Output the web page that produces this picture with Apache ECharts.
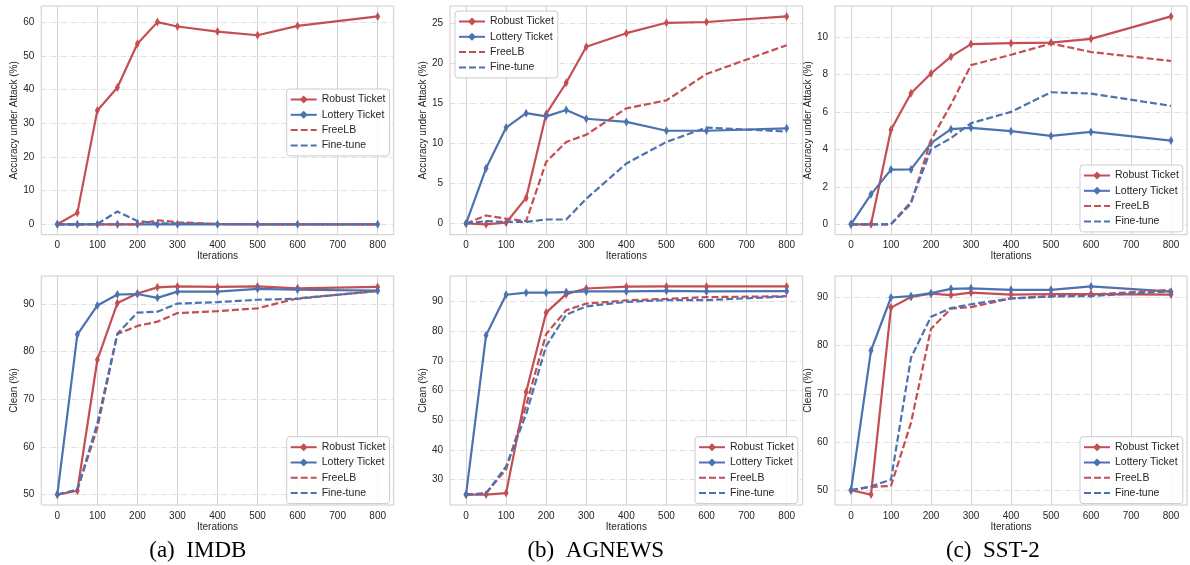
<!DOCTYPE html>
<html>
<head>
<meta charset="utf-8">
<script src="https://cdn.jsdelivr.net/npm/echarts@6.0.0/dist/echarts.min.js"></script>
<style>
html,body{margin:0;padding:0;background:#fff;}
#chart{width:1190px;height:565px;}
</style>
</head>
<body>
<div id="chart"></div>
<script>
// ---------------- data ----------------
const iterations = [0, 50, 100, 150, 200, 250, 300, 400, 500, 600, 800];
const xTicks = [0, 100, 200, 300, 400, 500, 600, 700, 800];
const seriesNames = ['Robust Ticket', 'Lottery Ticket', 'FreeLB', 'Fine-tune'];

// (a) IMDB – accuracy under attack
const imdbAttackRobust  = [0, 3.4, 33.8, 40.6, 53.6, 60.0, 58.7, 57.2, 56.1, 58.9, 61.7];
const imdbAttackLottery = [0, 0, 0, 0, 0, 0, 0, 0, 0, 0, 0];
const imdbAttackFreeLB  = [0, 0, 0, 0, 0, 1.2, 0.6, 0.1, 0, 0, 0];
const imdbAttackFinetune= [0, 0, 0.1, 3.8, 1.0, 0.3, 0.3, 0.1, 0, 0, 0];
const imdbAttackTicks   = [0, 10, 20, 30, 40, 50, 60];

// (b) AGNEWS – accuracy under attack
const agAttackRobust  = [0, -0.1, 0.1, 3.2, 13.7, 17.6, 22.1, 23.8, 25.1, 25.2, 25.9];
const agAttackLottery = [0, 6.9, 12.0, 13.8, 13.4, 14.2, 13.1, 12.7, 11.6, 11.6, 11.9];
const agAttackFreeLB  = [0, 1.0, 0.6, 0.3, 7.7, 10.2, 11.1, 14.4, 15.4, 18.7, 22.3];
const agAttackFinetune= [0, 0.3, 0.2, 0.2, 0.5, 0.5, 3.1, 7.5, 10.2, 12.0, 11.5];
const agAttackTicks   = [0, 5, 10, 15, 20, 25];

// (c) SST-2 – accuracy under attack
const sstAttackRobust  = [0, 0, 5.05, 7.0, 8.05, 8.95, 9.62, 9.67, 9.7, 9.9, 11.1];
const sstAttackLottery = [0, 1.6, 2.92, 2.93, 4.33, 5.08, 5.15, 4.97, 4.72, 4.93, 4.47];
const sstAttackFreeLB  = [0, 0, 0, 1.1, 4.5, 6.4, 8.5, 9.05, 9.65, 9.2, 8.72];
const sstAttackFinetune= [0, 0, 0, 1.2, 4.0, 4.6, 5.4, 6.0, 7.05, 6.98, 6.32];
const sstAttackTicks   = [0, 2, 4, 6, 8, 10];

// (a) IMDB – clean accuracy
const imdbCleanRobust  = [50, 50.8, 78.3, 90.2, 92.2, 93.5, 93.7, 93.6, 93.7, 93.3, 93.6];
const imdbCleanLottery = [50, 83.6, 89.7, 92.0, 92.1, 91.3, 92.6, 92.6, 93.2, 93.0, 92.8];
const imdbCleanFreeLB  = [50, 51.0, 64.0, 83.7, 85.4, 86.3, 88.1, 88.5, 89.1, 91.2, 92.7];
const imdbCleanFinetune= [50, 51.0, 65.0, 83.8, 88.2, 88.4, 90.1, 90.4, 90.9, 91.1, 92.8];
const imdbCleanTicks   = [50, 60, 70, 80, 90];

// (b) AGNEWS – clean accuracy
const agCleanRobust  = [25, 25.0, 25.5, 59.5, 86.2, 92.4, 94.3, 94.9, 95.0, 95.0, 95.0];
const agCleanLottery = [25, 78.6, 92.2, 92.9, 92.9, 93.1, 93.3, 93.3, 93.5, 93.3, 93.4];
const agCleanFreeLB  = [25, 25.5, 33.5, 55.0, 79.0, 87.0, 89.2, 90.3, 90.8, 91.4, 91.7];
const agCleanFinetune= [25, 25.3, 34.5, 52.0, 75.0, 85.5, 88.3, 89.8, 90.4, 90.4, 91.6];
const agCleanTicks   = [30, 40, 50, 60, 70, 80, 90];

// (c) SST-2 – clean accuracy
const sstCleanRobust  = [50, 49.1, 87.9, 90.1, 90.8, 90.5, 91.0, 90.6, 90.7, 90.7, 90.6];
const sstCleanLottery = [50, 79.0, 90.0, 90.3, 90.9, 91.8, 91.9, 91.6, 91.6, 92.3, 91.2];
const sstCleanFreeLB  = [50, 50.7, 50.9, 64.0, 83.5, 87.7, 88.0, 89.8, 90.3, 90.6, 91.6];
const sstCleanFinetune= [50, 50.8, 52.2, 77.5, 86.0, 87.8, 88.6, 89.8, 90.2, 90.3, 91.3];
const sstCleanTicks   = [50, 60, 70, 80, 90];

const captions = ['(a)  IMDB', '(b)  AGNEWS', '(c)  SST-2'];

// ---------------- layout / style ----------------
const RED = '#C44E52', BLUE = '#4C72B0';
const SANS = '"Liberation Sans", Arial, sans-serif';
const TEXT = '#262626';

const panels = [
  {grid:{left:41.3, top:6, width:352.4, height:228.7}, ylabel:'Accuracy under Attack (%)', ticks:imdbAttackTicks,
   data:[imdbAttackRobust, imdbAttackLottery, imdbAttackFreeLB, imdbAttackFinetune], legend:{left:286.7, top:89}},
  {grid:{left:450, top:6, width:352.7, height:228.7}, ylabel:'Accuracy under Attack (%)', ticks:agAttackTicks,
   data:[agAttackRobust, agAttackLottery, agAttackFreeLB, agAttackFinetune], legend:{left:455, top:11}},
  {grid:{left:835, top:6, width:352, height:228.7}, ylabel:'Accuracy under Attack (%)', ticks:sstAttackTicks,
   data:[sstAttackRobust, sstAttackLottery, sstAttackFreeLB, sstAttackFinetune], legend:{left:1080, top:165}},
  {grid:{left:41.3, top:276, width:352.4, height:229}, ylabel:'Clean (%)', ticks:imdbCleanTicks,
   data:[imdbCleanRobust, imdbCleanLottery, imdbCleanFreeLB, imdbCleanFinetune], legend:{left:286.7, top:436.7}},
  {grid:{left:450, top:276, width:352.7, height:229}, ylabel:'Clean (%)', ticks:agCleanTicks,
   data:[agCleanRobust, agCleanLottery, agCleanFreeLB, agCleanFinetune], legend:{left:695, top:436.7}},
  {grid:{left:835, top:276, width:352, height:229}, ylabel:'Clean (%)', ticks:sstCleanTicks,
   data:[sstCleanRobust, sstCleanLottery, sstCleanFreeLB, sstCleanFinetune], legend:{left:1080, top:436.7}}
];

// matplotlib-style autoscale with 5% margins
function limits(arrs) {
  let lo = Infinity, hi = -Infinity;
  arrs.forEach(a => a.forEach(v => { lo = Math.min(lo, v); hi = Math.max(hi, v); }));
  const m = (hi - lo) * 0.05;
  return [lo - m, hi + m];
}
const xLim = limits([iterations]);

const option = {
  backgroundColor: '#ffffff',
  animation: false,
  grid: [], xAxis: [], yAxis: [], series: [], legend: [], graphic: []
};

panels.forEach((p, i) => {
  option.grid.push(Object.assign({show:true, borderColor:'#cccccc', borderWidth:1, backgroundColor:'#ffffff', containLabel:false}, p.grid));
  option.xAxis.push({
    type:'value', gridIndex:i, min:xLim[0], max:xLim[1],
    name:'Iterations', nameLocation:'middle', nameGap:16,
    nameTextStyle:{fontFamily:SANS, fontSize:10, color:TEXT},
    axisLine:{show:false}, axisTick:{show:false, customValues:xTicks},
    axisLabel:{customValues:xTicks, fontFamily:SANS, fontSize:10, color:TEXT, margin:6},
    splitLine:{show:true, lineStyle:{color:'#d4d4d4', width:1, type:'solid'}}
  });
  const yl = limits(p.data);
  option.yAxis.push({
    type:'value', gridIndex:i, min:yl[0], max:yl[1],
    name:p.ylabel, nameLocation:'middle', nameGap:20,
    nameTextStyle:{fontFamily:SANS, fontSize:10, color:TEXT},
    axisLine:{show:false}, axisTick:{show:false, customValues:p.ticks},
    axisLabel:{customValues:p.ticks, fontFamily:SANS, fontSize:10, color:TEXT, margin:7},
    splitLine:{show:true, lineStyle:{color:'#dedede', width:1, type:[5,2,1,2]}}
  });
  p.data.forEach((vals, k) => {
    const dashed = k >= 2;
    const color = (k % 2 === 0) ? RED : BLUE;
    option.series.push({
      type:'line', name:seriesNames[k], xAxisIndex:i, yAxisIndex:i,
      data: iterations.map((x, j) => [x, vals[j]]),
      symbol: dashed ? 'none' : 'diamond', symbolSize:[5, 9], showSymbol: !dashed,
      itemStyle:{color:color},
      lineStyle:{color:color, width:2.2, type: dashed ? [7,3] : 'solid'},
      emphasis:{disabled:true}, silent:true, z: 2 + k
    });
  });
  option.legend.push({
    orient:'vertical', left:p.legend.left, top:p.legend.top,
    itemWidth:26, itemHeight:10, itemGap:4.3, padding:[5,4,5,3],
    borderColor:'#cccccc', borderWidth:1, borderRadius:3, backgroundColor:'rgba(255,255,255,0.85)',
    textStyle:{fontFamily:SANS, fontSize:10.5, color:TEXT},
    data: seriesNames.map((n, k) => k >= 2 ? {name:n, itemStyle:{opacity:0}} : {name:n}),
    selectedMode:false
  });
});

const capX = [197.8, 595.8, 992.8];
captions.forEach((c, i) => {
  option.graphic.push({
    type:'text', x:capX[i], y:551,
    style:{text:c, align:'center', verticalAlign:'middle', font:'23px "Liberation Serif", "Times New Roman", serif', fill:'#000'}
  });
});

const chart = echarts.init(document.getElementById('chart'), null, {renderer:'canvas'});
chart.setOption(option);
</script>
</body>
</html>
